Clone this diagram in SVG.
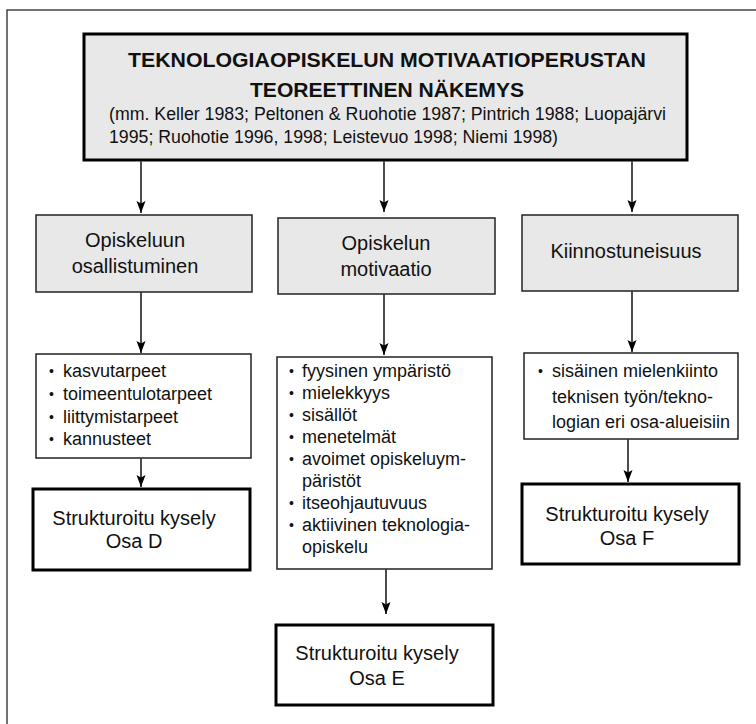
<svg xmlns="http://www.w3.org/2000/svg" width="756" height="724" viewBox="0 0 756 724">
  <defs>
    <marker id="arrow" markerUnits="userSpaceOnUse" markerWidth="12" markerHeight="10" viewBox="0 0 12 10" refX="12" refY="5" orient="auto">
      <path d="M0,0.5 L12,5 L0,9.5 L2.5,5 z" fill="#000"/>
    </marker>
  </defs>
  <style>
    .frame { fill: none; stroke: #444; stroke-width: 1.5; }
    .title-box { fill: #e8e8e8; stroke: #000; stroke-width: 3; }
    .topic { fill: #e8e8e8; stroke: #222; stroke-width: 1.5; }
    .list { fill: #fff; stroke: #222; stroke-width: 1.5; }
    .result { fill: #fff; stroke: #000; stroke-width: 3; }
    .edge { fill: none; stroke: #000; stroke-width: 1.4; marker-end: url(#arrow); }
    text { font-family: "Liberation Sans", Arial, sans-serif; fill: #111; }
    .h { font-size: 20.5px; font-weight: bold; text-anchor: middle; }
    .ref { font-size: 17.5px; }
    .lbl { font-size: 20px; text-anchor: middle; }
    .li { font-size: 18px; }
    .dot { font-size: 14px; }
    .res { font-size: 20px; text-anchor: middle; }
  </style>

  <!-- page frame (top and left rules) -->
  <path class="frame" d="M7,724 L7,10 L756,10"/>

  <!-- theoretical basis -->
  <g id="theory">
    <rect class="title-box" x="84" y="34" width="603" height="126"/>
    <text class="h" x="387" y="67" textLength="518" lengthAdjust="spacingAndGlyphs">TEKNOLOGIAOPISKELUN MOTIVAATIOPERUSTAN</text>
    <text class="h" x="387" y="97" textLength="274" lengthAdjust="spacingAndGlyphs">TEOREETTINEN NÄKEMYS</text>
    <text class="ref" x="109" y="120" textLength="557" lengthAdjust="spacingAndGlyphs">(mm. Keller 1983; Peltonen &amp; Ruohotie 1987; Pintrich 1988; Luopajärvi</text>
    <text class="ref" x="109" y="143" textLength="449" lengthAdjust="spacingAndGlyphs">1995; Ruohotie 1996, 1998; Leistevuo 1998; Niemi 1998)</text>
  </g>

  <!-- three perspectives -->
  <g id="participation">
    <rect class="topic" x="36" y="215" width="216" height="77"/>
    <text class="lbl" x="135" y="247">Opiskeluun</text>
    <text class="lbl" x="135" y="273">osallistuminen</text>
  </g>
  <g id="motivation">
    <rect class="topic" x="278" y="218" width="217" height="76"/>
    <text class="lbl" x="386" y="250">Opiskelun</text>
    <text class="lbl" x="386" y="276">motivaatio</text>
  </g>
  <g id="interest">
    <rect class="topic" x="522" y="215" width="216" height="76"/>
    <text class="lbl" x="626" y="258">Kiinnostuneisuus</text>
  </g>

  <!-- factor lists -->
  <g id="participation-factors">
    <rect class="list" x="36" y="354" width="215" height="104"/>
    <text class="dot" x="49" y="376">•</text><text class="li" x="63" y="377">kasvutarpeet</text>
    <text class="dot" x="49" y="399">•</text><text class="li" x="63" y="400">toimeentulotarpeet</text>
    <text class="dot" x="49" y="421.5">•</text><text class="li" x="63" y="422.5">liittymistarpeet</text>
    <text class="dot" x="49" y="444">•</text><text class="li" x="63" y="445">kannusteet</text>
  </g>
  <g id="motivation-factors">
    <rect class="list" x="277" y="357" width="215" height="212"/>
    <text class="dot" x="289" y="376">•</text><text class="li" x="302" y="377">fyysinen ympäristö</text>
    <text class="dot" x="289" y="398">•</text><text class="li" x="302" y="399">mielekkyys</text>
    <text class="dot" x="289" y="420">•</text><text class="li" x="302" y="421">sisällöt</text>
    <text class="dot" x="289" y="442">•</text><text class="li" x="302" y="443">menetelmät</text>
    <text class="dot" x="289" y="464">•</text><text class="li" x="302" y="465">avoimet opiskeluym-</text>
    <text class="li" x="302" y="487">päristöt</text>
    <text class="dot" x="289" y="508">•</text><text class="li" x="302" y="509">itseohjautuvuus</text>
    <text class="dot" x="289" y="530">•</text><text class="li" x="302" y="531">aktiivinen teknologia-</text>
    <text class="li" x="302" y="553">opiskelu</text>
  </g>
  <g id="interest-factors">
    <rect class="list" x="524" y="353" width="214" height="86"/>
    <text class="dot" x="538" y="376">•</text><text class="li" x="552" y="377">sisäinen mielenkiinto</text>
    <text class="li" x="552" y="403">teknisen työn/tekno-</text>
    <text class="li" x="552" y="428">logian eri osa-alueisiin</text>
  </g>

  <!-- questionnaire parts -->
  <g id="survey-d">
    <rect class="result" x="33" y="489" width="217" height="81"/>
    <text class="res" x="134" y="525">Strukturoitu kysely</text>
    <text class="res" x="134" y="548">Osa D</text>
  </g>
  <g id="survey-e">
    <rect class="result" x="276" y="625" width="217" height="80"/>
    <text class="res" x="377" y="660">Strukturoitu kysely</text>
    <text class="res" x="377" y="685">Osa E</text>
  </g>
  <g id="survey-f">
    <rect class="result" x="522" y="484" width="217" height="80"/>
    <text class="res" x="627" y="521">Strukturoitu kysely</text>
    <text class="res" x="627" y="545">Osa F</text>
  </g>

  <!-- connectors -->
  <g id="connectors">
    <path class="edge" d="M141,161.5 L141,213"/>
    <path class="edge" d="M384,161.5 L384,212"/>
    <path class="edge" d="M632,161.5 L632,212"/>
    <path class="edge" d="M141,292.5 L141,353"/>
    <path class="edge" d="M384,294.5 L384,355"/>
    <path class="edge" d="M632,291.5 L632,352"/>
    <path class="edge" d="M141,458.5 L141,487"/>
    <path class="edge" d="M386,569.5 L386,614"/>
    <path class="edge" d="M628,439.5 L628,482"/>
  </g>
</svg>
